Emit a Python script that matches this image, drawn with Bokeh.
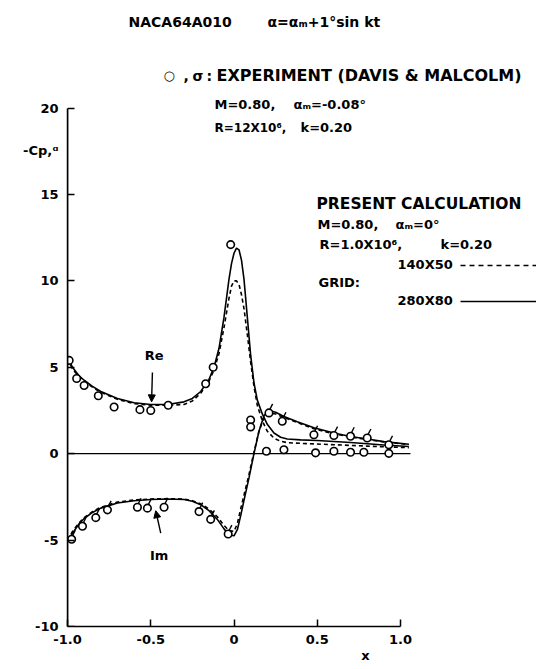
from bokeh.plotting import figure
from bokeh.models import Range1d, Label, FixedTicker, Arrow, NormalHead, LinearAxis
from bokeh.embed import file_html
from bokeh.resources import INLINE

# ---------------- data ----------------
re_x = [-1.0, -0.97, -0.93, -0.9, -0.85, -0.8, -0.7, -0.6, -0.5, -0.4,
        -0.3, -0.25, -0.2, -0.15, -0.12, -0.09, -0.06, -0.03, -0.015, 0.0,
        0.015, 0.03, 0.045, 0.06, 0.08, 0.1, 0.12, 0.14, 0.17, 0.2,
        0.24, 0.28, 0.32, 0.4, 0.5, 0.6, 0.7, 0.8, 0.9, 1.05]
re_280x80 = [5.6, 5.0, 4.5, 4.25, 3.9, 3.6, 3.2, 2.95, 2.85, 2.85,
             3.0, 3.2, 3.6, 4.3, 5.0, 6.1, 7.9, 10.1, 11.0, 11.6,
             11.9, 11.8, 11.2, 10.1, 7.9, 5.7, 4.1, 3.1, 2.3, 1.7,
             1.2, 0.95, 0.85, 0.8, 0.76, 0.71, 0.65, 0.58, 0.5, 0.42]
re_140x50 = [5.5, 4.9, 4.45, 4.2, 3.85, 3.55, 3.15, 2.9, 2.8, 2.8,
             2.85, 3.05, 3.5, 4.2, 4.85, 5.8, 7.3, 9.0, 9.7, 10.0,
             10.0, 9.8, 9.2, 8.4, 6.9, 5.3, 3.9, 2.8, 1.9, 1.3,
             0.9, 0.72, 0.64, 0.6, 0.56, 0.52, 0.48, 0.44, 0.4, 0.35]

im_x = [-1.0, -0.97, -0.93, -0.9, -0.85, -0.8, -0.7, -0.6, -0.5, -0.4,
        -0.3, -0.25, -0.2, -0.15, -0.1, -0.06, -0.03, 0.0, 0.02, 0.04,
        0.06, 0.09, 0.12, 0.15, 0.18, 0.21, 0.25, 0.3, 0.38, 0.48,
        0.6, 0.7, 0.8, 0.9, 1.05]
im_280x80 = [-5.1, -4.6, -4.05, -3.75, -3.4, -3.15, -2.85, -2.72, -2.65, -2.62,
             -2.65, -2.75, -2.95, -3.3, -3.8, -4.35, -4.7, -4.75, -4.4, -3.6,
             -2.7, -1.4, 0.0, 1.3, 2.2, 2.5, 2.4, 2.15, 1.85, 1.5,
             1.2, 1.0, 0.85, 0.7, 0.55]
im_140x50 = [-5.0, -4.5, -4.0, -3.7, -3.35, -3.1, -2.8, -2.68, -2.62, -2.6,
             -2.62, -2.72, -2.9, -3.2, -3.65, -4.15, -4.45, -4.5, -4.05, -3.2,
             -2.4, -1.2, 0.1, 1.3, 2.1, 2.35, 2.3, 2.1, 1.8, 1.45,
             1.15, 0.97, 0.82, 0.68, 0.53]

re_exp_x = [-0.99, -0.945, -0.9, -0.815, -0.72, -0.565, -0.5, -0.395, -0.17, -0.125,
            -0.02, 0.1, 0.1, 0.195, 0.30, 0.49, 0.60, 0.70, 0.78, 0.93]
re_exp_y = [5.4, 4.35, 3.95, 3.35, 2.7, 2.55, 2.5, 2.8, 4.05, 5.0,
            12.1, 1.95, 1.55, 0.14, 0.23, 0.05, 0.14, 0.08, 0.08, 0.02]

im_exp_x = [-0.975, -0.91, -0.83, -0.76, -0.58, -0.52, -0.42, -0.21, -0.14, -0.035,
            0.21, 0.29, 0.48, 0.60, 0.70, 0.80, 0.93]
im_exp_y = [-4.95, -4.2, -3.7, -3.25, -3.1, -3.15, -3.1, -3.35, -3.8, -4.65,
            2.36, 1.88, 1.10, 1.05, 1.01, 0.91, 0.52]

zero_x = [-1.0, 1.06]
zero_y = [0.0, 0.0]

x_ticks = [-1.0, -0.5, 0.0, 0.5, 1.0]
x_tick_labels = ["-1.0", "-0.5", "0", "0.5", "1.0"]
y_ticks = [-10, -5, 0, 5, 10, 15, 20]
y_tick_labels = ["-10", "-5", "0", "5", "10", "15", "20"]
x_title, y_title = "x", "-Cp,ᵅ"

# ---------------- layout ----------------
W, H = 536, 669
FL, FB = 67, 43            # frame left / bottom border (px)
XPU, YPU = 166.5, 17.28    # px per data unit
x_lo, y_lo = -1.0, -10.0
x_hi = x_lo + (W - FL) / XPU
y_hi = y_lo + (H - FB) / YPU


def px2x(px):
    return x_lo + (px - FL) / XPU


def py2y(py):
    return y_lo + (H - FB - py) / YPU


p = figure(width=W, height=H, output_backend="svg", toolbar_location=None,
           x_range=Range1d(x_lo, x_hi), y_range=Range1d(y_lo, y_hi),
           min_border_left=FL, min_border_bottom=FB, min_border_top=0,
           min_border_right=0)
p.outline_line_color = None
p.grid.visible = False
p.background_fill_color = "white"
p.border_fill_color = "white"

FONT = "DejaVu Sans"

for ax in (p.xaxis[0], p.yaxis[0]):
    ax.axis_line_width = 1.5
    ax.axis_line_color = "black"
    ax.major_tick_line_width = 1.5
    ax.major_tick_in = 7
    ax.major_tick_out = 0
    ax.minor_tick_line_color = None
    ax.major_label_text_font = FONT
    ax.major_label_text_font_style = "bold"
    ax.major_label_text_font_size = "13px"
    ax.major_label_text_color = "black"

xax = p.xaxis[0]
xax.bounds = (-1.0, 1.0)
xax.ticker = FixedTicker(ticks=x_ticks)
xax.major_label_overrides = {t: l for t, l in zip(x_ticks, x_tick_labels)}
xax.major_label_standoff = 8

# main y axis: labels only (incl. the axis title at its own level)
y_title_pos = py2y(150)
yax = p.yaxis[0]
yax.bounds = (-10, 20)
yax.ticker = FixedTicker(ticks=y_ticks + [y_title_pos])
overrides = {t: l for t, l in zip(y_ticks, y_tick_labels)}
overrides[y_title_pos] = y_title
yax.major_label_overrides = overrides
yax.major_label_standoff = 9
yax.major_tick_in = 0

# tick marks of the y axis, drawn by a pinned axis (takes no panel space)
ytk = LinearAxis(fixed_location=x_lo, ticker=FixedTicker(ticks=y_ticks),
                 bounds=(-10, 20), axis_line_width=1.5, axis_line_color="black",
                 major_tick_in=7, major_tick_out=0, major_tick_line_width=1.5,
                 minor_tick_line_color=None, major_label_text_font_size="0px",
                 major_label_text_color=None)
p.add_layout(ytk, "left")

# x axis title: a second, label-only axis stacked under the main x axis
x_title_pos = px2x(365)
xt = LinearAxis(ticker=FixedTicker(ticks=[x_title_pos]),
                major_label_overrides={x_title_pos: x_title},
                axis_line_color=None, major_tick_line_color=None,
                major_tick_in=0, major_tick_out=0,
                minor_tick_line_color=None, major_label_standoff=1,
                major_label_text_font=FONT, major_label_text_font_style="bold",
                major_label_text_font_size="13px", major_label_text_color="black")
p.add_layout(xt, "below")

# ---------------- marks ----------------
p.line(zero_x, zero_y, line_color="black", line_width=1.3)

p.line(re_x, re_280x80, line_color="black", line_width=1.6)
p.line(re_x, re_140x50, line_color="black", line_width=1.6, line_dash="4 3")
p.line(im_x, im_280x80, line_color="black", line_width=1.6)
p.line(im_x, im_140x50, line_color="black", line_width=1.6, line_dash="4 3")

p.scatter(re_exp_x, re_exp_y, marker="circle", size=7.5, line_width=1.6,
          line_color="black", fill_color="white")
p.scatter(im_exp_x, im_exp_y, marker="circle", size=7.5, line_width=1.6,
          line_color="black", fill_color="white")
# small tick on the sigma-like symbols
p.segment(x0=[x + 0.006 for x in im_exp_x], y0=[y + 0.22 for y in im_exp_y],
          x1=[x + 0.022 for x in im_exp_x], y1=[y + 0.52 for y in im_exp_y],
          line_color="black", line_width=1.4)


def lab(px, py, text, size="13px", align="left"):
    p.add_layout(Label(x=px2x(px), y=py2y(py), text=text, text_font=FONT,
                       text_font_style="bold", text_font_size=size,
                       text_align=align, text_baseline="middle",
                       text_color="black"))


# Re / Im callouts
p.add_layout(Label(x=-0.48, y=5.7, text="Re", text_font=FONT, text_font_style="bold",
                   text_font_size="13px", text_align="center", text_baseline="middle",
                   text_color="black"))
p.add_layout(Arrow(end=NormalHead(size=7, fill_color="black", line_color="black"),
                   x_start=-0.49, y_start=4.7, x_end=-0.495, y_end=3.0,
                   line_width=1.4))
p.add_layout(Label(x=-0.45, y=-5.9, text="Im", text_font=FONT, text_font_style="bold",
                   text_font_size="13px", text_align="center", text_baseline="middle",
                   text_color="black"))
p.add_layout(Arrow(end=NormalHead(size=7, fill_color="black", line_color="black"),
                   x_start=-0.44, y_start=-4.6, x_end=-0.47, y_end=-3.3,
                   line_width=1.4))

lab(128, 21, "NACA64A010", size="14px")
lab(267, 21, "α=αₘ+1°sin kt", size="14px")
lab(163, 75, "○", size="13px")
lab(183, 75, ",", size="14px")
lab(192, 75, "σ", size="14px")
lab(206, 75, ":", size="14px")
lab(216, 75, "EXPERIMENT (DAVIS & MALCOLM)", size="16px")
lab(214, 104, "M=0.80,", size="13px")
lab(293, 104, "αₘ=-0.08°", size="13px")
lab(214, 127, "R=12X10⁶,", size="12px")
lab(300, 127, "k=0.20", size="13px")

lab(316, 203, "PRESENT CALCULATION", size="15.5px")
lab(317, 224, "M=0.80,", size="13px")
lab(395, 224, "αₘ=0°", size="13px")
lab(319, 244, "R=1.0X10⁶,", size="13px")
lab(440, 244, "k=0.20", size="13px")
lab(397, 264, "140X50", size="13px")
lab(318, 282, "GRID:", size="13px")
lab(397, 300, "280X80", size="13px")

p.line([px2x(460), px2x(536)], [py2y(265), py2y(265)], line_color="black",
       line_width=1.3, line_dash="5 4")
p.line([px2x(460), px2x(536)], [py2y(301), py2y(301)], line_color="black",
       line_width=1.5)

open("out.html", "w").write(file_html(p, INLINE))
